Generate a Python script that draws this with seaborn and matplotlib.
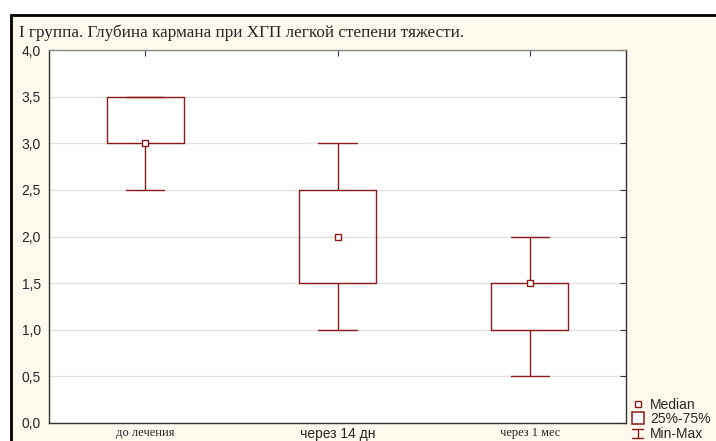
import numpy as np
import pandas as pd
import matplotlib
matplotlib.use("Agg")
import matplotlib.pyplot as plt
from matplotlib.lines import Line2D
from matplotlib.patches import Rectangle
from matplotlib.legend_handler import HandlerBase
import seaborn as sns

# five-number summaries
groups = ["до лечения", "через 14 дн", "через 1 мес"]
mins = [2.5, 1.0, 0.5]
q1s = [3.0, 1.5, 1.0]
medians = [3.0, 2.0, 1.5]
q3s = [3.5, 2.5, 1.5]
maxs = [3.5, 3.0, 2.0]
yticks = [0.0, 0.5, 1.0, 1.5, 2.0, 2.5, 3.0, 3.5, 4.0]
title = "I группа. Глубина кармана при ХГП легкой степени тяжести."

red = "#8b1a1a"
cream = "#fff9ee"

rows = []
for g, a, b, c, d, e in zip(groups, mins, q1s, medians, q3s, maxs):
    for v in (a, b, c, d, e):
        rows.append({"group": g, "value": v})
df = pd.DataFrame(rows)
med_df = pd.DataFrame({"group": groups, "value": medians})


class HandlerMinMax(HandlerBase):
    # draws a small I-shaped whisker symbol
    def create_artists(self, legend, orig, xd, yd, w, h, fs, trans):
        cx = xd + w / 2
        top, bot = yd + h - 0.5, yd - 0.5
        kw = dict(color=red, linewidth=1, transform=trans)
        return [Line2D([cx - 4, cx + 4], [top, top], **kw),
                Line2D([cx, cx], [bot, top], **kw),
                Line2D([cx - 4, cx + 4], [bot, bot], **kw)]


sns.set_style("white")
fig = plt.figure(figsize=(7.16, 4.41), dpi=100, facecolor="white")

# cream panel with black frame
fig.patches.append(Rectangle((11 / 716, -0.1), 1.2, 1 - 15 / 441 + 0.1,
                             transform=fig.transFigure, facecolor=cream,
                             edgecolor="black", linewidth=2, zorder=-10))

ax = fig.add_axes([49 / 716, 1 - 423 / 441, 577 / 716, 373 / 441])
ax.set_facecolor("white")

sns.boxplot(data=df, x="group", y="value", order=groups, whis=(0, 100),
            width=0.4, fill=False, color=red, linewidth=1.0,
            medianprops=dict(visible=False), capprops=dict(color=red),
            whiskerprops=dict(color=red), ax=ax)
sns.scatterplot(data=med_df, x="group", y="value", marker="s", s=22,
                facecolor="white", edgecolor=red, linewidth=1.0, zorder=5,
                ax=ax, legend=False)

ax.set_xlim(-0.5, 2.5)
ax.set_ylim(0, 4)
ax.set_yticks(yticks)
ax.set_yticklabels([f"{t:.1f}".replace(".", ",") for t in yticks],
                   fontfamily="Liberation Sans", fontsize=10)
ax.set_xticks(range(len(groups)))
ax.set_xticklabels(groups)
for i, lab in enumerate(ax.get_xticklabels()):
    if i == 1:
        lab.set_fontfamily("Liberation Sans")
        lab.set_fontsize(10)
    else:
        lab.set_fontfamily("Liberation Serif")
        lab.set_fontsize(9)
ax.set_xlabel("")
ax.set_ylabel("")
ax.yaxis.grid(True, color="#e2e2e2", linewidth=1)
ax.set_axisbelow(True)
ax.tick_params(direction="in", length=4, width=0.8, color="#333333",
               top=True, right=True)
ax.tick_params(axis="x", pad=3)
ax.tick_params(axis="y", pad=6)
for side in ["left", "bottom", "right"]:
    ax.spines[side].set_color("#333333")
    ax.spines[side].set_linewidth(1)
ax.spines["top"].set_color("#888888")
ax.spines["top"].set_linewidth(1)

fig.text(19 / 716, 1 - 33 / 441, title, fontfamily="Liberation Serif",
         fontsize=12.3, va="center", ha="left")

minmax = Line2D([], [], color=red)
handles = [
    Line2D([], [], linestyle="none", marker="s", markersize=4,
           markerfacecolor="white", markeredgecolor=red, markeredgewidth=1),
    Line2D([], [], linestyle="none", marker="s", markersize=9,
           markerfacecolor="white", markeredgecolor=red, markeredgewidth=1.1),
    minmax,
]
fig.legend(handles, ["Median", "25%-75%", "Min-Max"],
           handler_map={minmax: HandlerMinMax()},
           loc="upper left", bbox_to_anchor=(632 / 716, 1 - 398 / 441),
           frameon=False, prop={"family": "Liberation Sans", "size": 10},
           handlelength=0.8, handletextpad=0.5, labelspacing=0.02,
           borderpad=0, borderaxespad=0)

fig.savefig("out.png", dpi=100, facecolor="white")
